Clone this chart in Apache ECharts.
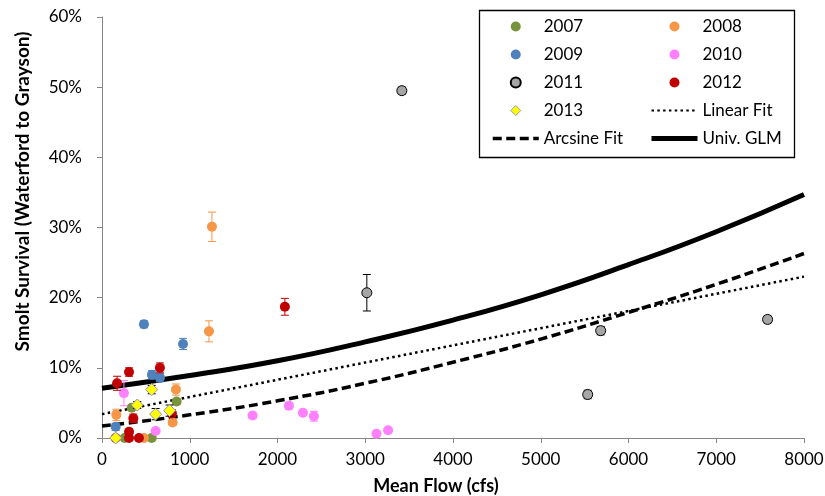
<!DOCTYPE html>
<html>
<head>
<meta charset="utf-8">
<script src="https://cdn.jsdelivr.net/npm/echarts@6/dist/echarts.min.js"></script>
<style>
html,body{margin:0;padding:0;background:#fff;}
#c{width:825px;height:496px;}
</style>
</head>
<body>
<div id="c"></div>
<script>
// Each point: [mean flow (cfs), survival (%), error (+/- %)]
const y2007 = [[338,4.3,0],[850,5.2,0.4],[566,0,0],[258,0,0]];
const y2008 = [[1253,30.1,2.1],[1219,15.2,1.5],[843,6.9,0.8],[805,2.2,0.4],[163,3.3,0.8],[478,0,0]];
const y2009 = [[478,16.2,0.5],[923,13.4,0.8],[569,9.0,0.6],[660,8.6,0.6],[156,1.6,0.5]];
const y2010 = [[250,6.4,1.8],[611,1.0,0],[1716,3.2,0.4],[2130,4.6,0.5],[2290,3.6,0.3],[2415,3.1,0.7],[3128,0.6,0],[3260,1.1,0]];
const y2011 = [[3417,49.5,0.5],[3018,20.7,2.6],[5535,6.2,0.6],[5683,15.3,0.6],[7585,16.9,0.5]];
const y2012 = [[172,7.8,1.0],[308,9.4,0.6],[660,10.0,0.7],[2084,18.7,1.2],[357,2.8,0.6],[308,0.9,0.3],[308,0,0],[421,0,0],[156,0,0],[797,3.5,0.5]];
const y2013 = [[156,0,0],[402,4.7,0.5],[566,6.9,0.6],[611,3.4,0.8],[770,3.9,0.8]];

const fitFlow = [0,1000,2000,3000,4000,5000,6000,7000,8000];
const linearFit = [3.4,5.85,8.3,10.75,13.2,15.65,18.1,20.55,23.0];
const arcsineFit = [1.7,3.3,5.3,7.8,10.8,14.1,17.9,21.9,26.3];
const glmFit = [7.1,8.9,11.0,13.7,16.8,20.4,24.7,29.4,34.7];

const xTicks = {min:0, max:8000, interval:1000};
const yTicks = {min:0, max:60, interval:10};

const FONT = 'Lato';
const years = [
  {name:'2007', data:y2007, color:'#77933C', border:'#77933C', bar:'#77933C', symbol:'circle'},
  {name:'2008', data:y2008, color:'#F79646', border:'#F79646', bar:'#F79646', symbol:'circle'},
  {name:'2009', data:y2009, color:'#4F81BD', border:'#4F81BD', bar:'#4F81BD', symbol:'circle'},
  {name:'2010', data:y2010, color:'#FF80FF', border:'#FF80FF', bar:'#FF80FF', symbol:'circle'},
  {name:'2011', data:y2011, color:'#A6A6A6', border:'#000000', bar:'#000000', symbol:'circle'},
  {name:'2012', data:y2012, color:'#C00000', border:'#C00000', bar:'#C00000', symbol:'circle'},
  {name:'2013', data:y2013, color:'#FFFF00', border:'#9C8FB8', bar:'#000000', symbol:'diamond'}
];

function fitData(arr){ return fitFlow.map((x,i)=>[x, arr[i]]); }

const series = [];
series.push({name:'Linear Fit', type:'line', data:fitData(linearFit), symbol:'none', smooth:false, z:1,
  lineStyle:{color:'#000', width:2.5, type:[2.5,3.3], cap:'butt'}, itemStyle:{color:'#000'}});
series.push({name:'Arcsine Fit', type:'line', data:fitData(arcsineFit), symbol:'none', smooth:true, z:1,
  lineStyle:{color:'#000', width:3.5, type:[9,4.5], cap:'butt'}, itemStyle:{color:'#000'}});
series.push({name:'Univ. GLM', type:'line', data:fitData(glmFit), symbol:'none', smooth:true, z:1,
  lineStyle:{color:'#000', width:5}, itemStyle:{color:'#000'}});

years.forEach((y, idx) => {
  series.push({
    name: y.name + ' err', type:'custom', z:2+idx*2,
    data: y.data.filter(d=>d[2]>0),
    renderItem: function(params, api){
      const x = api.value(0), v = api.value(1), e = api.value(2);
      const top = api.coord([x, v+e]);
      const bot = api.coord([x, v-e]);
      const hw = 4;
      return {type:'group', children:[
        {type:'line', shape:{x1:top[0],y1:top[1],x2:bot[0],y2:bot[1]}, style:{stroke:y.bar, lineWidth:1}},
        {type:'line', shape:{x1:top[0]-hw,y1:top[1],x2:top[0]+hw,y2:top[1]}, style:{stroke:y.bar, lineWidth:1}},
        {type:'line', shape:{x1:bot[0]-hw,y1:bot[1],x2:bot[0]+hw,y2:bot[1]}, style:{stroke:y.bar, lineWidth:1}}
      ]};
    },
    encode:{x:0, y:1}, silent:true
  });
  series.push({
    name: y.name, type:'scatter', z:3+idx*2,
    data: y.data.map(d=>[d[0], d[1]]),
    symbol: y.symbol, symbolSize: y.symbol==='diamond' ? 12 : 10, symbolKeepAspect:true,
    itemStyle:{color:y.color, borderColor:y.border, borderWidth: (y.name==='2011'||y.name==='2013') ? 1 : 0, opacity:1}
  });
});

const hideSym = {color:'rgba(0,0,0,0)', borderWidth:0, borderColor:'rgba(0,0,0,0)'};
const diamondIcon = 'path://M0,5L0,5M46,5L46,5M23,-0.5L28.5,5L23,10.5L17.5,5Z';
const legendCommon = {
  orient:'vertical', itemWidth:46, itemHeight:10, itemGap:11, padding:0,
  textStyle:{fontFamily:FONT, fontSize:17, color:'#000'}, selectedMode:false
};

const chart = echarts.init(document.getElementById('c'), null, {renderer:'canvas'});
chart.setOption({
  animation:false,
  backgroundColor:'#fff',
  grid:{left:102, right:21, top:17, bottom:58, containLabel:false, outerBoundsMode:'none'},
  xAxis:{type:'value', min:xTicks.min, max:xTicks.max, interval:xTicks.interval,
    name:'Mean Flow (cfs)', nameLocation:'middle', nameGap:39,
    nameTextStyle:{fontFamily:FONT, fontSize:18, fontWeight:'bold', color:'#000', padding:[0,34,0,0]},
    axisLine:{lineStyle:{color:'#868686', width:1}},
    axisTick:{show:true, length:5, lineStyle:{color:'#868686'}},
    axisLabel:{fontFamily:FONT, fontSize:17, color:'#000', margin:13, formatter:function(v){return String(v);}},
    splitLine:{show:false}},
  yAxis:{type:'value', min:yTicks.min, max:yTicks.max, interval:yTicks.interval,
    name:'Smolt Survival (Waterford to Grayson)', nameLocation:'middle', nameGap:70, nameRotate:90,
    nameTextStyle:{fontFamily:FONT, fontSize:19, fontWeight:'bold', color:'#000', padding:[0,0,0,72]},
    axisLine:{show:true, lineStyle:{color:'#868686', width:1}},
    axisTick:{show:true, length:5, lineStyle:{color:'#868686'}},
    axisLabel:{fontFamily:FONT, fontSize:17, color:'#000', margin:20, formatter:'{value}%'},
    splitLine:{show:false}},
  legend:[
    Object.assign({left:491, top:18, data:['2007','2009','2011',
      {name:'2013', icon:diamondIcon, itemStyle:{color:'#FFFF00', borderColor:'#9C8FB8', borderWidth:1}},
      {name:'Arcsine Fit', itemStyle:hideSym, lineStyle:{width:3.5, type:[9,4.5]}}]}, legendCommon),
    Object.assign({left:649, top:18, data:['2008','2010','2012',
      {name:'Linear Fit', itemStyle:hideSym},
      {name:'Univ. GLM', itemStyle:hideSym, lineStyle:{width:5}}]}, legendCommon)
  ],
  graphic:[{type:'rect', left:477, top:8, shape:{width:315, height:147}, style:{fill:'none', stroke:'#000', lineWidth:1.3}, z:100}],
  series: series
});
</script>
</body>
</html>
